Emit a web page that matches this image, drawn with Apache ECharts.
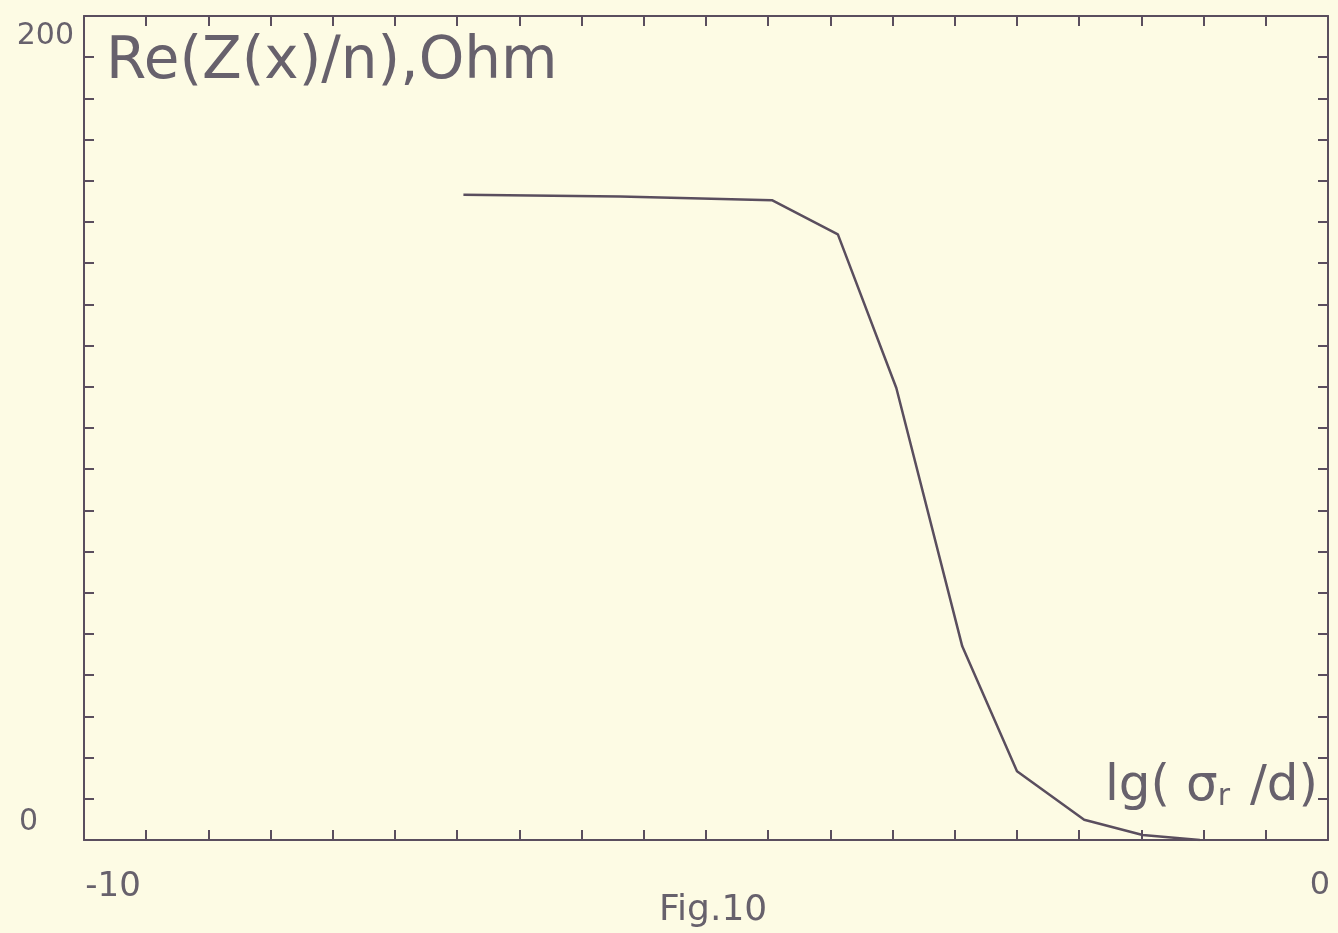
<!DOCTYPE html>
<html lang="en">
<head>
    <meta charset="UTF-8">
    <title>Fig.10</title>
    <script src="https://cdn.jsdelivr.net/npm/echarts@6/dist/echarts.min.js"></script>
    <style>
        html, body { margin: 0; padding: 0; background: #fdfbe4; }
        #chart { width: 1338px; height: 933px; }
    </style>
</head>
<body>
    <div id="chart"></div>
    <script>
        // lg(sigma_r/d) values and Re(Z(x)/n) in Ohm
        var xValues = [-6.95, -5.69, -4.47, -3.94, -3.47, -2.94, -2.50, -1.96, -1.49, -1.03];
        var reZ = [156.6, 156.2, 155.3, 147.0, 109.7, 47.0, 16.7, 4.9, 1.2, 0.0];
        var xTickLabels = ['-10', '0'];
        var yTickLabels = ['0', '200'];

        var ink = '#5a4e5e';
        var textInk = '#67616c';
        var font = 'DejaVu Sans';

        var chart = echarts.init(document.getElementById('chart'));

        var points = xValues.map(function (x, i) { return [x, reZ[i]]; });

        // frame axes: line + inward ticks, no labels
        function frameAxis(extra) {
            return Object.assign({
                type: 'value',
                axisLine: { show: true, onZero: false, lineStyle: { color: ink, width: 2 } },
                axisTick: { show: true, inside: true, length: 10, lineStyle: { color: ink, width: 2 } },
                axisLabel: { show: false },
                splitLine: { show: false }
            }, extra);
        }

        var option = {
            backgroundColor: '#fdfbe4',
            animation: false,
            title: {
                text: 'Fig.10',
                left: 654,
                top: 888,
                textStyle: { fontFamily: font, fontWeight: 'normal', fontSize: 36, color: textInk }
            },
            grid: { left: 84, right: 10, top: 16, bottom: 93, outerBoundsMode: 'none' },
            xAxis: [
                frameAxis({
                    min: -10, max: 0, interval: 0.5, position: 'bottom',
                    axisLabel: {
                        show: true,
                        margin: 30,
                        formatter: function (v) {
                            if (v === -10) return '{l|' + xTickLabels[0] + '}';
                            if (v === 0) return '{r|' + xTickLabels[1] + '}';
                            return '';
                        },
                        rich: {
                            l: { fontFamily: font, fontSize: 34, color: textInk, padding: [0, 0, 0, 58] },
                            r: { fontFamily: font, fontSize: 32, color: textInk, padding: [0, 16, 0, 0] }
                        }
                    },
                    name: '{a|lg( σ}{s|r}{a| /d)}',
                    nameLocation: 'end',
                    nameGap: -10,
                    nameTextStyle: {
                        align: 'right',
                        verticalAlign: 'bottom',
                        padding: [0, 0, 28, 0],
                        rich: {
                            a: { fontFamily: font, fontSize: 50, color: textInk },
                            s: { fontFamily: font, fontSize: 30, color: textInk, padding: [20, 4, 0, 0] }
                        }
                    }
                }),
                frameAxis({ min: -10, max: 0, interval: 0.5, position: 'top' })
            ],
            yAxis: [
                frameAxis({
                    min: 0, max: 200, interval: 10, position: 'left',
                    axisLabel: {
                        show: true,
                        margin: 46,
                        formatter: function (v) {
                            if (v === 0) return '{lo|' + yTickLabels[0] + '}';
                            if (v === 200) return '{hi|' + yTickLabels[1] + '}';
                            return '';
                        },
                        rich: {
                            lo: { fontFamily: font, fontSize: 30, color: textInk, padding: [0, 0, 36, 0] },
                            hi: { fontFamily: font, fontSize: 30, color: textInk, padding: [40, -36, 0, 0] }
                        }
                    },
                    name: 'Re(Z(x)/n),Ohm',
                    nameLocation: 'end',
                    nameGap: -18,
                    nameTextStyle: {
                        align: 'left',
                        verticalAlign: 'top',
                        padding: [0, 0, 0, 22],
                        fontFamily: font,
                        fontSize: 58,
                        color: textInk
                    }
                }),
                frameAxis({ min: 0, max: 200, interval: 10, position: 'right' })
            ],
            series: [{
                type: 'line',
                data: points,
                showSymbol: false,
                lineStyle: { color: ink, width: 2.5 }
            }]
        };

        chart.setOption(option);
    </script>
</body>
</html>
